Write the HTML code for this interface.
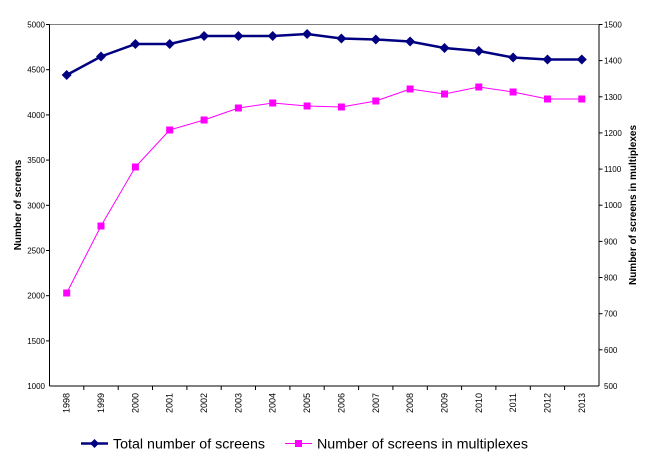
<!DOCTYPE html>
<html><head><meta charset="utf-8"><style>
body{margin:0;background:#fff;}
svg{display:block;font-family:"Liberation Sans",Arial,sans-serif;}
</style></head><body>
<svg width="656" height="467" viewBox="0 0 656 467" xmlns="http://www.w3.org/2000/svg">
<rect width="656" height="467" fill="#fff"/>
<line x1="49.5" y1="24.5" x2="599" y2="24.5" stroke="#808080" stroke-width="1"/>
<line x1="49.5" y1="24.5" x2="49.5" y2="386" stroke="#000" stroke-width="1"/>
<line x1="599" y1="24.5" x2="599" y2="386" stroke="#000" stroke-width="1"/>
<line x1="49.5" y1="386" x2="599" y2="386" stroke="#000" stroke-width="1"/>
<g font-size="8" fill="#000" text-anchor="end">
<text x="45" y="27.5">5000</text><text x="45" y="72.7">4500</text><text x="45" y="117.9">4000</text><text x="45" y="163.1">3500</text><text x="45" y="208.3">3000</text><text x="45" y="253.5">2500</text><text x="45" y="298.7">2000</text><text x="45" y="343.9">1500</text><text x="45" y="389">1000</text>
</g>
<g stroke="#000"><line x1="46" x2="49.5" y1="24.5" y2="24.5"/><line x1="46" x2="49.5" y1="69.7" y2="69.7"/><line x1="46" x2="49.5" y1="114.9" y2="114.9"/><line x1="46" x2="49.5" y1="160.1" y2="160.1"/><line x1="46" x2="49.5" y1="205.3" y2="205.3"/><line x1="46" x2="49.5" y1="250.5" y2="250.5"/><line x1="46" x2="49.5" y1="295.7" y2="295.7"/><line x1="46" x2="49.5" y1="340.9" y2="340.9"/>
<line x1="599" x2="602.5" y1="24.5" y2="24.5"/><line x1="599" x2="602.5" y1="60.6" y2="60.6"/><line x1="599" x2="602.5" y1="96.8" y2="96.8"/><line x1="599" x2="602.5" y1="132.9" y2="132.9"/><line x1="599" x2="602.5" y1="169.1" y2="169.1"/><line x1="599" x2="602.5" y1="205.2" y2="205.2"/><line x1="599" x2="602.5" y1="241.4" y2="241.4"/><line x1="599" x2="602.5" y1="277.5" y2="277.5"/><line x1="599" x2="602.5" y1="313.7" y2="313.7"/><line x1="599" x2="602.5" y1="349.8" y2="349.8"/>
</g>
<g font-size="8" fill="#000" text-anchor="start">
<text x="604" y="27.5">1500</text><text x="604" y="63.6">1400</text><text x="604" y="99.8">1300</text><text x="604" y="135.9">1200</text><text x="604" y="172.1">1100</text><text x="604" y="208.2">1000</text><text x="604" y="244.4">900</text><text x="604" y="280.5">800</text><text x="604" y="316.7">700</text><text x="604" y="352.8">600</text><text x="604" y="389">500</text>
</g>
<g stroke="#000">
<line x1="83.8" x2="83.8" y1="386" y2="390"/><line x1="118.2" x2="118.2" y1="386" y2="390"/><line x1="152.5" x2="152.5" y1="386" y2="390"/><line x1="186.9" x2="186.9" y1="386" y2="390"/><line x1="221.2" x2="221.2" y1="386" y2="390"/><line x1="255.5" x2="255.5" y1="386" y2="390"/><line x1="289.9" x2="289.9" y1="386" y2="390"/><line x1="324.2" x2="324.2" y1="386" y2="390"/><line x1="358.6" x2="358.6" y1="386" y2="390"/><line x1="392.9" x2="392.9" y1="386" y2="390"/><line x1="427.3" x2="427.3" y1="386" y2="390"/><line x1="461.6" x2="461.6" y1="386" y2="390"/><line x1="495.9" x2="495.9" y1="386" y2="390"/><line x1="530.3" x2="530.3" y1="386" y2="390"/><line x1="564.6" x2="564.6" y1="386" y2="390"/>
</g>
<g font-size="9" fill="#000" text-anchor="end">
<text transform="translate(69.7,393) rotate(-90)">1998</text><text transform="translate(104,393) rotate(-90)">1999</text><text transform="translate(138.4,393) rotate(-90)">2000</text><text transform="translate(172.7,393) rotate(-90)">2001</text><text transform="translate(207.1,393) rotate(-90)">2002</text><text transform="translate(241.4,393) rotate(-90)">2003</text><text transform="translate(275.7,393) rotate(-90)">2004</text><text transform="translate(310.1,393) rotate(-90)">2005</text><text transform="translate(344.4,393) rotate(-90)">2006</text><text transform="translate(378.8,393) rotate(-90)">2007</text><text transform="translate(413.1,393) rotate(-90)">2008</text><text transform="translate(447.5,393) rotate(-90)">2009</text><text transform="translate(481.8,393) rotate(-90)">2010</text><text transform="translate(516.1,393) rotate(-90)">2011</text><text transform="translate(550.5,393) rotate(-90)">2012</text><text transform="translate(584.8,393) rotate(-90)">2013</text>
</g>
<text transform="translate(21,205) rotate(-90)" font-size="10" font-weight="bold" text-anchor="middle">Number of screens</text>
<text transform="translate(636,205) rotate(-90)" font-size="10" font-weight="bold" text-anchor="middle">Number of screens in multiplexes</text>
<polyline fill="none" stroke="#ff00ff" stroke-width="1" points="66.7,293 101,226 135.4,167 169.7,130 204.1,120 238.4,108 272.7,103 307.1,106 341.4,107 375.8,101 410.1,89 444.5,94 478.8,87 513.1,92 547.5,99 581.8,99"/>
<g fill="#ff00ff">
<rect x="63.2" y="289.5" width="7" height="7"/><rect x="97.5" y="222.5" width="7" height="7"/><rect x="131.9" y="163.5" width="7" height="7"/><rect x="166.2" y="126.5" width="7" height="7"/><rect x="200.6" y="116.5" width="7" height="7"/><rect x="234.9" y="104.5" width="7" height="7"/><rect x="269.2" y="99.5" width="7" height="7"/><rect x="303.6" y="102.5" width="7" height="7"/><rect x="337.9" y="103.5" width="7" height="7"/><rect x="372.3" y="97.5" width="7" height="7"/><rect x="406.6" y="85.5" width="7" height="7"/><rect x="441" y="90.5" width="7" height="7"/><rect x="475.3" y="83.5" width="7" height="7"/><rect x="509.6" y="88.5" width="7" height="7"/><rect x="544" y="95.5" width="7" height="7"/><rect x="578.3" y="95.5" width="7" height="7"/>
</g>
<polyline fill="none" stroke="#000080" stroke-width="2.5" points="66.7,75 101,56.5 135.4,44 169.7,44 204.1,36 238.4,36 272.7,36 307.1,34 341.4,38.5 375.8,39.5 410.1,41.5 444.5,48 478.8,51 513.1,57.5 547.5,59.5 581.8,59.5"/>
<g fill="#000080">
<path d="M66.7,70 l5,5 l-5,5 l-5,-5z"/><path d="M101,51.5 l5,5 l-5,5 l-5,-5z"/><path d="M135.4,39 l5,5 l-5,5 l-5,-5z"/><path d="M169.7,39 l5,5 l-5,5 l-5,-5z"/><path d="M204.1,31 l5,5 l-5,5 l-5,-5z"/><path d="M238.4,31 l5,5 l-5,5 l-5,-5z"/><path d="M272.7,31 l5,5 l-5,5 l-5,-5z"/><path d="M307.1,29 l5,5 l-5,5 l-5,-5z"/><path d="M341.4,33.5 l5,5 l-5,5 l-5,-5z"/><path d="M375.8,34.5 l5,5 l-5,5 l-5,-5z"/><path d="M410.1,36.5 l5,5 l-5,5 l-5,-5z"/><path d="M444.5,43 l5,5 l-5,5 l-5,-5z"/><path d="M478.8,46 l5,5 l-5,5 l-5,-5z"/><path d="M513.1,52.5 l5,5 l-5,5 l-5,-5z"/><path d="M547.5,54.5 l5,5 l-5,5 l-5,-5z"/><path d="M581.8,54.5 l5,5 l-5,5 l-5,-5z"/>
</g>
<line x1="81" y1="443.5" x2="108" y2="443.5" stroke="#000080" stroke-width="2.5"/>
<path d="M94.5,439 l4.5,4.5 l-4.5,4.5 l-4.5,-4.5z" fill="#000080"/>
<text x="113" y="448.5" font-size="14" textLength="152" lengthAdjust="spacingAndGlyphs">Total number of screens</text>
<line x1="285" y1="443.5" x2="312" y2="443.5" stroke="#ff00ff" stroke-width="1"/>
<rect x="295" y="440" width="7" height="7" fill="#ff00ff"/>
<text x="317" y="448.5" font-size="14" textLength="211" lengthAdjust="spacingAndGlyphs">Number of screens in multiplexes</text>
</svg>
</body></html>
